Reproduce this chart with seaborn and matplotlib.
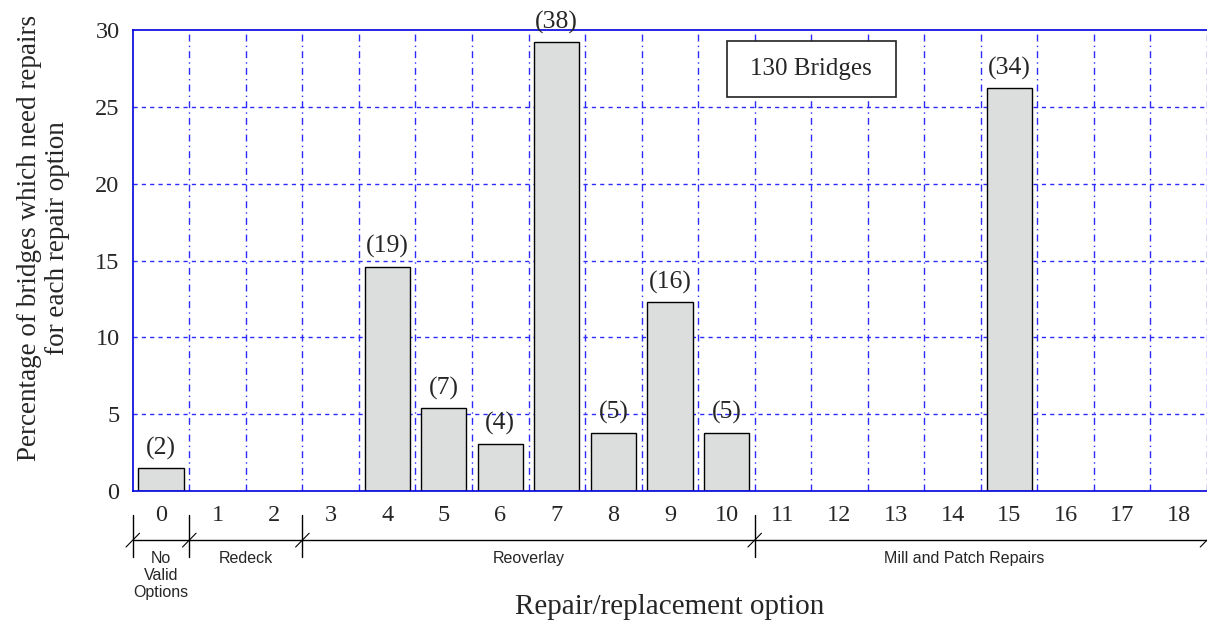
import matplotlib
matplotlib.use('Agg')
import matplotlib.pyplot as plt
import seaborn as sns
import pandas as pd
from matplotlib.patches import Rectangle
from matplotlib.transforms import blended_transform_factory

# datos
opciones = [str(i) for i in range(19)]
porcentaje = [1.5, 0, 0, 0, 14.6, 5.4, 3.1, 29.2, 3.8, 12.3, 3.8,
              0, 0, 0, 0, 26.2, 0, 0, 0]
conteos = ['(2)', '', '', '', '(19)', '(7)', '(4)', '(38)', '(5)', '(16)', '(5)',
           '', '', '', '', '(34)', '', '', '']

# grupos de opciones (inicio, fin, etiqueta)
grupos_inicio = [-0.5, 0.5, 2.5, 10.5]
grupos_fin = [0.5, 2.5, 10.5, 18.5]
grupos_centro = [0, 1.5, 6.5, 14.2]
grupos_texto = ['No\nValid\nOptions', 'Redeck', 'Reoverlay', 'Mill and Patch Repairs']

sns.set_style('white')
plt.rcParams['font.family'] = ['Liberation Serif', 'DejaVu Serif']

df = pd.DataFrame({'Opcion': opciones, 'Porcentaje': porcentaje})

fig = plt.figure(figsize=(12.07, 6.21), dpi=100)
ax = fig.add_axes([0.110, 0.209, 0.890, 0.743])

azul = '#2b2bff'
# grid
for y in range(5, 30, 5):
    ax.axhline(y, color=azul, linestyle=(0, (3, 3)), linewidth=1, zorder=0)
for x in range(19):
    ax.axvline(x + 0.5, color=azul, linestyle=(0, (5, 3, 1, 3)), linewidth=1, zorder=0)

sns.barplot(data=df, x='Opcion', y='Porcentaje', color='#dcdddd',
            edgecolor='black', linewidth=1, width=0.8, saturation=1, ax=ax, zorder=2)
for p in ax.patches:
    if p.get_height() == 0:
        p.set_visible(False)

ax.bar_label(ax.containers[0], labels=conteos, padding=6, fontsize=18.5)

ax.set_xlim(-0.5, 18.5)
ax.set_ylim(0, 30)
ax.set_yticks(range(0, 31, 5))
ax.tick_params(axis='both', length=0, labelsize=17.5)
ax.tick_params(axis='x', pad=10)
ax.tick_params(axis='y', pad=9.5)

for lado in ['left', 'bottom', 'top']:
    ax.spines[lado].set_color('#0000dd')
    ax.spines[lado].set_linewidth(1.2)
ax.spines['right'].set_visible(False)

ax.set_xlabel('Repair/replacement option', fontsize=21)
ax.xaxis.set_label_coords(0.5, -0.222)
ax.set_ylabel('Percentage of bridges which need repairs\nfor each repair option',
              fontsize=19.5, linespacing=1.2)
ax.yaxis.set_label_coords(-0.058, 0.549)

# caja de texto
ax.add_patch(Rectangle((10.01, 25.6), 2.99, 3.7, facecolor='white',
                       edgecolor='#222222', linewidth=1.2, zorder=3))
ax.text(11.5, 27.45, '130 Bridges', ha='center', va='center', fontsize=18, zorder=4)

# corchetes de grupos debajo del eje
trans = blended_transform_factory(ax.transData, ax.transAxes)
y_linea = -0.106
ax.plot([-0.5, 18.5], [y_linea, y_linea], color='black', linewidth=1,
        transform=trans, clip_on=False)
for x in grupos_inicio:
    ax.plot([x, x], [-0.052, -0.143], color='black', linewidth=1,
            transform=trans, clip_on=False)
for x in grupos_inicio + [18.5]:
    ax.plot([x - 0.12, x + 0.12], [y_linea - 0.015, y_linea + 0.015], color='black',
            linewidth=0.8, transform=trans, clip_on=False)
for xc, txt in zip(grupos_centro, grupos_texto):
    ax.text(xc, -0.13, txt, ha='center', va='top', fontsize=11.5,
            family=['Liberation Sans', 'DejaVu Sans'], linespacing=1.15,
            transform=trans)

plt.savefig('out.png', dpi=100, facecolor='white')
plt.close()
